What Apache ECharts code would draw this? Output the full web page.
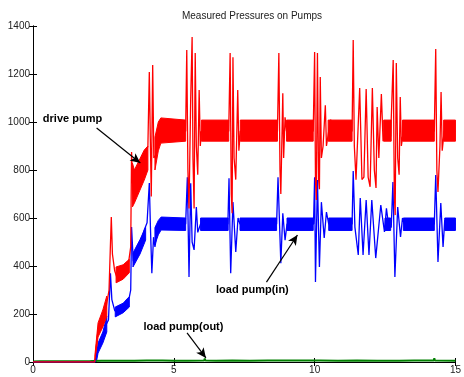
<!DOCTYPE html>
<html>
<head>
<meta charset="utf-8">
<script src="https://cdn.jsdelivr.net/npm/echarts@6/dist/echarts.min.js"></script>
<style>
  html, body { margin: 0; padding: 0; background: #fff; }
  #chart { width: 464px; height: 377px; }
</style>
</head>
<body>
<div id="chart"></div>
<script>
// [time, pressure]
const drivePump = [
  [0, 0], [2.19, 0], [2.31, 133], [2.48, 181], [2.6, 230], [2.7, 300], [2.78, 604], [2.82, 450],
  [2.9, 380], [3.0, 345], [3.1, 350], [3.2, 370], [3.3, 400], [3.4, 420], [3.47, 480], [3.5, 875], [3.55, 700],
  [3.65, 740], [3.8, 790], [3.95, 850], [4.08, 900], [4.13, 1208], [4.17, 900], [4.2, 690], [4.25, 1237],
  [4.29, 850], [4.35, 860], [4.45, 930], [4.55, 962],
  [5.42, 962], [5.46, 1300], [5.5, 800], [5.54, 640], [5.6, 1100], [5.65, 1354], [5.68, 850], [5.72, 640],
  [5.76, 1287], [5.8, 900], [5.85, 780], [5.9, 1133], [5.94, 900], [5.98, 962],
  [6.95, 962], [7.0, 1287], [7.04, 700], [7.07, 620], [7.1, 1270], [7.14, 850], [7.2, 760], [7.27, 1133],
  [7.31, 880], [7.36, 962],
  [8.68, 962], [8.73, 1287], [8.77, 800], [8.8, 700], [8.87, 1120], [8.9, 850], [8.95, 1020], [9.0, 962],
  [9.95, 962], [10.0, 1292], [10.03, 760], [10.06, 675], [10.1, 1287], [10.14, 760], [10.17, 720], [10.2, 1187],
  [10.24, 850], [10.3, 900], [10.38, 1070], [10.42, 900], [10.5, 962], [10.57, 1010], [10.62, 962],
  [11.33, 962], [11.37, 1342], [11.41, 900], [11.47, 760], [11.6, 1142], [11.68, 760], [11.75, 770],
  [11.83, 1137], [11.9, 770], [11.97, 730], [12.05, 1142], [12.12, 800], [12.18, 725], [12.22, 1062],
  [12.28, 850], [12.37, 1117], [12.43, 920], [12.5, 962], [12.6, 990], [12.7, 940], [12.79, 1258], [12.83, 700],
  [12.86, 612], [12.9, 1246], [12.95, 850], [13.0, 780], [13.04, 1104], [13.08, 900], [13.15, 962],
  [14.25, 962], [14.3, 1304], [14.34, 800], [14.38, 708], [14.45, 900], [14.49, 1125], [14.53, 880],
  [14.6, 962], [15, 962]
];

const loadPumpIn = [
  [0, 0], [2.2, 0], [2.31, 58], [2.48, 102], [2.6, 156], [2.68, 175], [2.75, 370], [2.8, 260],
  [2.9, 215], [3.0, 205], [3.1, 215], [3.2, 235], [3.3, 255], [3.42, 270], [3.47, 300], [3.5, 562], [3.56, 420],
  [3.65, 440], [3.8, 490], [3.95, 550], [4.05, 580], [4.13, 746], [4.17, 560], [4.22, 370], [4.28, 520],
  [4.33, 480], [4.4, 530], [4.5, 570], [4.6, 575],
  [5.42, 575], [5.48, 770], [5.54, 354], [5.6, 745], [5.65, 500], [5.72, 467], [5.8, 646], [5.85, 540], [5.95, 575],
  [6.92, 575], [6.96, 766], [7.02, 370], [7.1, 666], [7.2, 458], [7.28, 600], [7.35, 575],
  [8.65, 575], [8.7, 770], [8.8, 412], [8.87, 620], [8.95, 508], [9.02, 575],
  [9.96, 575], [10.0, 770], [10.03, 333], [10.1, 758], [10.17, 396], [10.24, 666], [10.34, 517], [10.42, 625],
  [10.5, 575],
  [11.33, 575], [11.37, 796], [11.43, 562], [11.55, 446], [11.62, 683], [11.72, 446], [11.83, 675], [11.93, 446],
  [12.03, 675], [12.17, 433], [12.24, 433], [12.35, 654], [12.48, 542], [12.55, 640], [12.62, 575], [12.72, 560],
  [12.78, 750], [12.85, 354], [12.95, 646], [13.05, 521], [13.12, 600], [13.18, 575],
  [14.25, 575], [14.3, 779], [14.38, 417], [14.48, 662], [14.56, 479], [14.62, 590], [14.7, 575], [15, 575]
];

const loadPumpOut = [
  [0, 2], [0.23, 3], [0.25, 8], [0.27, 2], [0.73, 3], [0.75, 9], [0.77, 2], [1.33, 3], [1.35, 7], [1.37, 2],
  [2.0, 3], [2.1, 4], [2.43, 5], [2.45, 12], [2.47, 4], [3.03, 5], [3.05, 10], [3.07, 4], [3.6, 5], [4.03, 6],
  [4.05, 13], [4.07, 5], [4.6, 6], [5.03, 5], [5.05, 12], [5.07, 6], [5.5, 5], [6.08, 6], [6.1, 15], [6.12, 6],
  [6.5, 5], [7.08, 6], [7.1, 14], [7.12, 6], [7.7, 5], [8.33, 6], [8.35, 13], [8.37, 5], [9.0, 6], [9.33, 6],
  [9.35, 14], [9.37, 5], [10.2, 6], [10.83, 5], [10.85, 11], [10.87, 5], [11.5, 6], [12.23, 5], [12.25, 12],
  [12.27, 6], [13, 5], [13.53, 6], [13.55, 13], [13.57, 5], [14.23, 6], [14.25, 16], [14.27, 6], [15, 5]
];

// [time, low, high] envelope of the dense noise band
const driveBand = [
  [[2.2, 0, 30], [2.31, 104, 163], [2.48, 146, 217], [2.62, 190, 275]],
  [[2.95, 330, 396], [3.2, 345, 405], [3.42, 372, 428]],
  [[3.53, 646, 829], [3.6, 662, 800], [3.95, 758, 883], [4.08, 800, 900]],
  [[4.33, 800, 937], [4.45, 880, 1000], [4.54, 912, 1017], [5.42, 920, 1008]],
  [[5.98, 920, 1008], [6.95, 920, 1008]],
  [[7.36, 920, 1008], [8.68, 920, 1008]],
  [[9.0, 920, 1008], [9.95, 920, 1008]],
  [[10.48, 920, 1008], [11.33, 920, 1008]],
  [[12.45, 920, 1008], [12.72, 920, 1008]],
  [[13.12, 920, 1008], [14.25, 920, 1008]],
  [[14.58, 920, 1008], [15, 920, 1008]]
];
const loadInBand = [
  [[2.25, 0, 20], [2.31, 37, 79], [2.48, 79, 125], [2.62, 125, 190]],
  [[2.92, 188, 229], [3.2, 205, 245], [3.42, 229, 271]],
  [[3.55, 396, 454], [3.8, 450, 510], [4.0, 508, 562]],
  [[4.33, 490, 560], [4.45, 530, 590], [4.55, 550, 604], [5.42, 548, 600]],
  [[5.95, 548, 600], [6.93, 548, 600]],
  [[7.35, 548, 600], [8.65, 548, 600]],
  [[9.02, 548, 600], [9.95, 548, 600]],
  [[10.5, 548, 600], [11.33, 548, 600]],
  [[12.5, 548, 600], [12.7, 548, 600]],
  [[13.15, 548, 600], [14.25, 548, 600]],
  [[14.62, 548, 600], [15, 548, 600]]
];

const xTicks = [0, 5, 10, 15];
const yTicks = [0, 200, 400, 600, 800, 1000, 1200, 1400];

const titleText = "Measured Pressures on Pumps";
const notes = [
  { text: "drive pump", at: [0.35, 1012], from: [2.26, 975], to: [3.81, 829] },
  { text: "load pump(in)", at: [6.5, 300], from: [8.29, 333], to: [9.39, 529] },
  { text: "load pump(out)", at: [3.92, 146], from: [5.47, 121], to: [6.14, 17] }
];

const RED = "#ff0000", BLUE = "#0000ff", GREEN = "#008000";
const FONT = "Liberation Sans";

const chart = echarts.init(document.getElementById("chart"));

// one polygon per band segment, points mapped through the axes
const bandSeries = (segs, color) => ({
  type: "custom",
  coordinateSystem: "cartesian2d",
  silent: true,
  z: 2,
  data: segs.map((s) => [s[0][0], s[0][1]]),
  renderItem: (params, api) => {
    const seg = segs[params.dataIndex];
    const top = seg.map((d) => api.coord([d[0], d[2]]));
    const bottom = seg.slice().reverse().map((d) => api.coord([d[0], d[1]]));
    return {
      type: "polygon",
      shape: { points: top.concat(bottom) },
      style: { fill: color, stroke: color, lineWidth: 1 }
    };
  }
});

const traceSeries = (data, color, width) => ({
  type: "line",
  data,
  showSymbol: false,
  silent: true,
  lineStyle: { color, width },
  z: 3
});

const axisCommon = {
  min: 0,
  axisLine: { lineStyle: { color: "#000", width: 1 } },
  axisTick: { inside: true, length: 4, lineStyle: { color: "#000" } },
  splitLine: { show: false }
};
const tickLabel = { fontFamily: FONT, fontSize: 10, color: "#222", margin: 3, formatter: (v) => String(v) };

chart.setOption({
  animation: false,
  backgroundColor: "#fff",
  title: {
    text: titleText,
    left: 247,
    textAlign: "center",
    top: 6,
    textStyle: { fontFamily: FONT, fontSize: 10, fontWeight: "normal", color: "#222" }
  },
  grid: { left: 33, right: 6, top: 26, bottom: 15 },
  xAxis: [
    {
      ...axisCommon,
      type: "value",
      max: xTicks[xTicks.length - 1],
      interval: xTicks[1] - xTicks[0],
      position: "bottom",
      axisLabel: tickLabel
    },
    {
      ...axisCommon,
      type: "value",
      max: xTicks[xTicks.length - 1],
      interval: xTicks[1] - xTicks[0],
      position: "top",
      axisLabel: { show: false }
    }
  ],
  yAxis: [
    {
      ...axisCommon,
      type: "value",
      max: yTicks[yTicks.length - 1],
      interval: yTicks[1] - yTicks[0],
      position: "left",
      axisLabel: tickLabel
    },
    {
      ...axisCommon,
      type: "value",
      max: yTicks[yTicks.length - 1],
      interval: yTicks[1] - yTicks[0],
      position: "right",
      axisLabel: { show: false }
    }
  ],
  series: [
    traceSeries(loadPumpOut, GREEN, 2),
    bandSeries(loadInBand, BLUE),
    traceSeries(loadPumpIn, BLUE, 1.3),
    bandSeries(driveBand, RED),
    traceSeries(drivePump, RED, 1.3),
    {
      type: "line",
      data: [],
      silent: true,
      z: 5,
      markLine: {
        silent: true,
        symbol: ["none", "arrow"],
        symbolSize: [7, 10],
        label: { show: false },
        lineStyle: { color: "#000", width: 1.2, type: "solid" },
        data: notes.map((n) => [{ coord: n.from }, { coord: n.to }])
      }
    }
  ]
});

const finder = { xAxisIndex: 0, yAxisIndex: 0 };
chart.setOption({
  graphic: notes.map((n) => {
    const p = chart.convertToPixel(finder, n.at);
    return {
      type: "text",
      x: p[0],
      y: p[1],
      z: 10,
      style: {
        text: n.text,
        fontFamily: FONT,
        fontSize: 11,
        fontWeight: "bold",
        fill: "#000",
        verticalAlign: "middle"
      }
    };
  })
});
</script>
</body>
</html>
